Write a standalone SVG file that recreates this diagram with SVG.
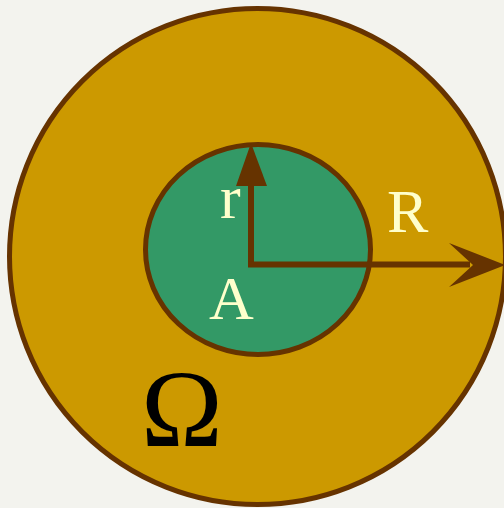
<svg xmlns="http://www.w3.org/2000/svg" width="504" height="508" viewBox="0 0 504 508">
<style>
.lbl{fill:#ffffcc;font-size:62px}
.omega{fill:#000;font-size:110px}
.edge{stroke:#663300;stroke-width:6;fill:none}
.head{fill:#663300;stroke:none}
</style>
<rect width="504" height="508" fill="#f3f3ee"/>
<g id="omega-region">
<circle cx="257.5" cy="256.5" r="248" fill="#cc9900" stroke="#663300" stroke-width="5"/>
<text class="omega" font-family="Times New Roman, Liberation Serif, Times, serif" x="141" y="446">Ω</text>
</g>
<g id="a-region">
<ellipse cx="258" cy="249.5" rx="112.5" ry="105" fill="#339966" stroke="#663300" stroke-width="5"/>
<text class="lbl" font-family="Times New Roman, Liberation Serif, Times, serif" x="209" y="319">A</text>
</g>
<g id="connectors">
<path class="edge" d="M251,265 V184"/>
<polygon class="head" points="251,143 236,186 267,186"/>
<path class="edge" d="M248,264.5 H470"/>
<polygon class="head" points="505,265 449,243 473,265 449,287"/>
</g>
<g id="labels">
<text class="lbl" font-family="Times New Roman, Liberation Serif, Times, serif" x="220" y="218">r</text>
<text class="lbl" font-family="Times New Roman, Liberation Serif, Times, serif" x="387" y="232">R</text>
</g>
</svg>
